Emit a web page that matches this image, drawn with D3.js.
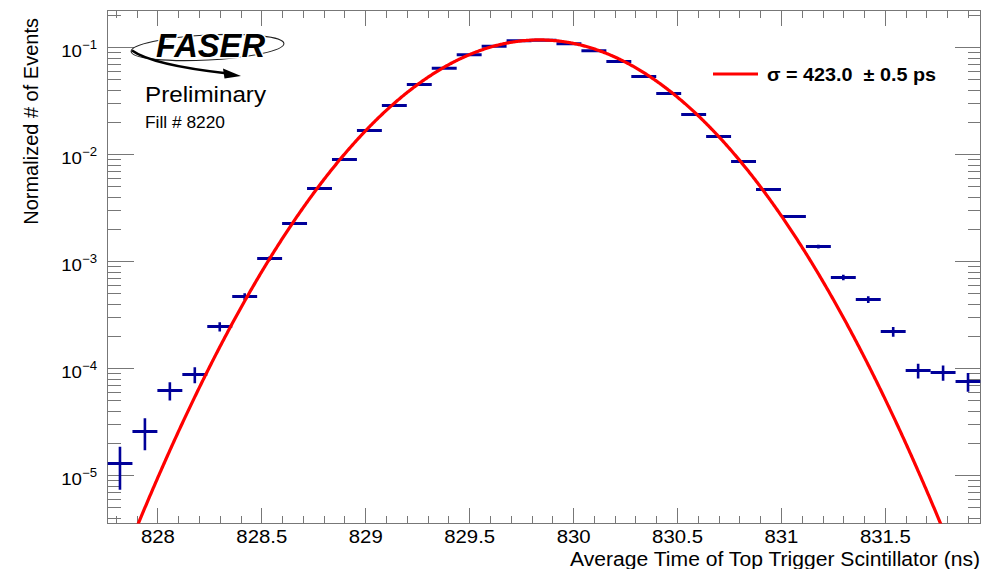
<!DOCTYPE html>
<html><head><meta charset="utf-8">
<script src="https://cdn.jsdelivr.net/npm/d3@7/dist/d3.min.js"></script>
<style>
body{margin:0;background:#fff}
svg{display:block;font-family:"Liberation Sans",Arial,Helvetica,sans-serif}
</style>
</head><body>
<svg id="chart" width="996" height="569"></svg>
<script>
// ---------- data ----------
const binCenters = [827.82, 827.94, 828.06, 828.18, 828.30, 828.42, 828.54, 828.66, 828.78, 828.90,
  829.02, 829.14, 829.26, 829.38, 829.50, 829.62, 829.74, 829.86, 829.98, 830.10,
  830.22, 830.34, 830.46, 830.58, 830.70, 830.82, 830.94, 831.06, 831.18, 831.30,
  831.42, 831.54, 831.66, 831.78, 831.90];
const binHalfWidth = 0.06;
const binValues = [1.29e-5, 2.56e-5, 6.19e-5, 8.73e-5, 2.45e-4, 4.68e-4, 1.06e-3, 2.25e-3, 4.78e-3, 8.92e-3,
  0.01666, 0.0285, 0.0448, 0.0637, 0.0849, 0.1021, 0.1148, 0.1162, 0.1076, 0.0926,
  0.0735, 0.0532, 0.0369, 0.0235, 0.01464, 0.00855, 0.00468, 0.00262, 0.001372, 7.05e-4,
  4.39e-4, 2.20e-4, 9.52e-5, 9.12e-5, 7.52e-5];
const binErrors = [5.6e-6, 8.5e-6, 1.2e-5, 1.5e-5, 2.4e-5, 3.3e-5, 5.0e-5, 7.3e-5, 1.06e-4, 1.45e-4,
  2.0e-4, 2.6e-4, 3.2e-4, 3.9e-4, 4.5e-4, 4.9e-4, 5.1e-4, 5.1e-4, 5.0e-4, 4.7e-4,
  4.1e-4, 3.6e-4, 2.9e-4, 2.3e-4, 1.85e-4, 1.4e-4, 1.05e-4, 7.9e-5, 5.7e-5, 4.1e-5,
  3.2e-5, 2.3e-5, 1.5e-5, 1.5e-5, 1.5e-5];
// Gaussian fit parameters
const fitConstant = 0.117;
const fitMean = 829.838;
const fitSigma = 0.423;
// axes
const xDomain = [827.76, 831.96];
const yDomain = [3.54e-6, 0.2203];
const xTickValues = [828, 828.5, 829, 829.5, 830, 830.5, 831, 831.5];
const yTickExponents = [-1, -2, -3, -4, -5];
const legendLabel = "σ = 423.0  ± 0.5 ps";
const xTitle = "Average Time of Top Trigger Scintillator (ns)";
const yTitle = "Normalized # of Events";

// ---------- layout ----------
const L = 107.5, R = 980.5, T = 10.5, B = 523.5;
const svg = d3.select("#chart");
const x = d3.scaleLinear().domain(xDomain).range([L, R]);
const y = d3.scaleLog().domain(yDomain).range([B, T]);
const axisColor = "#777";
const dataColor = "#000099";

svg.append("defs").append("clipPath").attr("id", "frameClip")
  .append("rect").attr("x", L).attr("y", T).attr("width", R - L).attr("height", B - T);

// ---------- axes ----------
const isMajorX = v => Math.abs(v * 2 - Math.round(v * 2)) < 1e-6;
const xMinor = x.ticks(40).filter(v => !isMajorX(v));
const yMajor = yTickExponents.map(e => Math.pow(10, e));
const yMinor = y.ticks().filter(v => Math.abs(Math.log10(v) - Math.round(Math.log10(v))) > 1e-6);

function styleAxis(g) {
  g.select(".domain").remove();
  g.selectAll("line").attr("stroke", axisColor).attr("stroke-width", 1).attr("shape-rendering", "crispEdges");
}
// bottom
svg.append("g").attr("transform", `translate(0,${B})`)
  .call(d3.axisBottom(x).tickValues(xMinor).tickSize(-8).tickFormat("")).call(styleAxis);
const xAxisMajor = svg.append("g").attr("transform", `translate(0,${B})`)
  .call(d3.axisBottom(x).tickValues(xTickValues).tickSize(-16).tickFormat(d => String(d)));
styleAxis(xAxisMajor);
xAxisMajor.selectAll("text").attr("y", 19.5).attr("dy", 0)
  .attr("fill", "#000").style("font-size", "18.5px").attr("transform", "scale(1.1,1)");
// top
svg.append("g").attr("transform", `translate(0,${T})`)
  .call(d3.axisTop(x).tickValues(xMinor).tickSize(-7).tickFormat("")).call(styleAxis);
svg.append("g").attr("transform", `translate(0,${T})`)
  .call(d3.axisTop(x).tickValues(xTickValues).tickSize(-15).tickFormat("")).call(styleAxis);
// left
svg.append("g").attr("transform", `translate(${L},0)`)
  .call(d3.axisLeft(y).tickValues(yMinor).tickSize(-13).tickFormat("")).call(styleAxis);
svg.append("g").attr("transform", `translate(${L},0)`)
  .call(d3.axisLeft(y).tickValues(yMajor).tickSize(-26).tickFormat("")).call(styleAxis);
// right
svg.append("g").attr("transform", `translate(${R},0)`)
  .call(d3.axisRight(y).tickValues(yMinor).tickSize(-13).tickFormat("")).call(styleAxis);
svg.append("g").attr("transform", `translate(${R},0)`)
  .call(d3.axisRight(y).tickValues(yMajor).tickSize(-26).tickFormat("")).call(styleAxis);

// y labels 10^-n
const yLab = svg.append("g");
yTickExponents.forEach(e => {
  const yy = y(Math.pow(10, e));
  const t = yLab.append("text")
    .attr("transform", `translate(97,${yy + 10}) scale(1.1,1)`)
    .attr("text-anchor", "end").style("font-size", "17px").attr("fill", "#000");
  t.append("tspan").text("10");
  t.append("tspan").attr("dy", -8.3).style("font-size", "12px").text("\u2212" + Math.abs(e));
});

// frame
svg.append("rect").attr("x", L).attr("y", T).attr("width", R - L).attr("height", B - T)
  .attr("fill", "none").attr("stroke", axisColor).attr("stroke-width", 1).attr("shape-rendering", "crispEdges");

// axis titles
svg.append("text").text(xTitle).attr("x", 980).attr("y", 565.5).attr("text-anchor", "end")
  .style("font-size", "20px").attr("textLength", 410).attr("lengthAdjust", "spacingAndGlyphs");
svg.append("text").text(yTitle).attr("transform", "translate(38,18) rotate(-90)")
  .attr("text-anchor", "end").style("font-size", "20px");

// ---------- data points ----------
const pts = svg.append("g").attr("clip-path", "url(#frameClip)");
const bins = binCenters.map((c, i) => ({ c, v: binValues[i], e: binErrors[i] }));
pts.selectAll("line.h").data(bins).join("line").attr("class", "h")
  .attr("x1", d => x(d.c - binHalfWidth)).attr("x2", d => x(d.c + binHalfWidth))
  .attr("y1", d => y(d.v)).attr("y2", d => y(d.v))
  .attr("stroke", dataColor).attr("stroke-width", 3);
pts.selectAll("line.v").data(bins).join("line").attr("class", "v")
  .attr("x1", d => x(d.c)).attr("x2", d => x(d.c))
  .attr("y1", d => y(Math.max(d.v - d.e, yDomain[0] * 0.5))).attr("y2", d => y(d.v + d.e))
  .attr("stroke", dataColor).attr("stroke-width", 2.6);

// ---------- fit ----------
const fitX = d3.range(xDomain[0], xDomain[1] + 0.0001, 0.004);
const gauss = t => fitConstant * Math.exp(-0.5 * Math.pow((t - fitMean) / fitSigma, 2));
const fitLine = d3.line().x(t => x(t)).y(t => y(Math.max(gauss(t), 1e-9)));
svg.append("path").attr("clip-path", "url(#frameClip)").datum(fitX).attr("d", fitLine)
  .attr("fill", "none").attr("stroke", "#ff0000").attr("stroke-width", 3.2);

// ---------- legend ----------
svg.append("line").attr("x1", 713).attr("x2", 758).attr("y1", 74).attr("y2", 74)
  .attr("stroke", "#ff0000").attr("stroke-width", 3);
svg.append("text").text(legendLabel).attr("x", 767).attr("y", 80.5)
  .style("font-size", "18px").style("font-weight", "bold").style("white-space", "pre")
  .attr("textLength", 169).attr("lengthAdjust", "spacingAndGlyphs");

// ---------- FASER logo & labels ----------
const logo = svg.append("g");
logo.append("ellipse").attr("cx", 207.5).attr("cy", 47.5).attr("rx", 76.5).attr("ry", 12.5)
  .attr("transform", "rotate(-3 207.5 47.5)").attr("fill", "none").attr("stroke", "#222").attr("stroke-width", 1.1);
logo.append("path").attr("d", "M132,50.5 C148,62 188,69 228,73.5")
  .attr("fill", "none").attr("stroke", "#000").attr("stroke-width", 2.6);
logo.append("path").attr("d", "M241,76 L223,68.5 L224.5,78.5 Z").attr("fill", "#000");
logo.append("text").text("FASER").attr("x", 156).attr("y", 57)
  .style("font-size", "33px").style("font-weight", "900").style("font-style", "italic")
  .attr("textLength", 109).attr("lengthAdjust", "spacingAndGlyphs")
  .attr("stroke", "#fff").attr("stroke-width", 3).attr("paint-order", "stroke");
svg.append("text").text("Preliminary").attr("x", 145).attr("y", 102)
  .style("font-size", "22px").attr("textLength", 121).attr("lengthAdjust", "spacingAndGlyphs");
svg.append("text").text("Fill # 8220").attr("x", 145).attr("y", 128)
  .style("font-size", "16px").attr("textLength", 80).attr("lengthAdjust", "spacingAndGlyphs");
</script>
</body></html>
